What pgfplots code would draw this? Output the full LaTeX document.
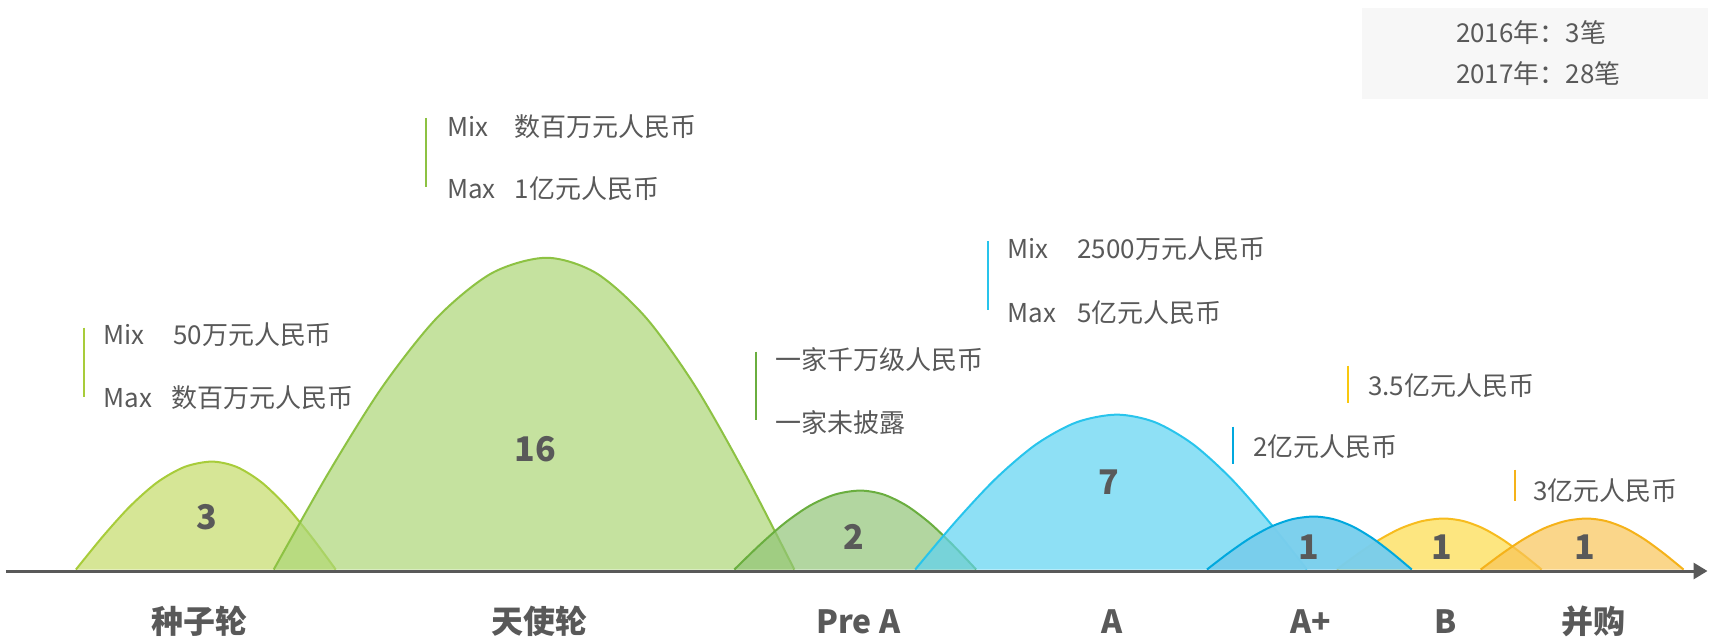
\documentclass[border=0pt]{standalone}
\usepackage{pgfplots}
\pgfplotsset{compat=1.18}
\usepackage{pgfplotstable}
\usetikzlibrary{arrows.meta}
\usepackage{fontspec}
\setmainfont{Noto Sans CJK SC}
\definecolor{txt}{RGB}{89,89,89}
\definecolor{axg}{RGB}{89,89,89}
\definecolor{seedF}{RGB}{196,219,105}\definecolor{seedL}{RGB}{168,204,58}
\definecolor{angF}{RGB}{172,214,118}\definecolor{angL}{RGB}{141,194,67}
\definecolor{preF}{RGB}{145,196,119}\definecolor{preL}{RGB}{106,174,63}
\definecolor{aF}{RGB}{94,211,241}\definecolor{aL}{RGB}{40,196,236}
\definecolor{apF}{RGB}{121,206,236}\definecolor{apL}{RGB}{0,168,222}
\definecolor{bF}{RGB}{252,219,74}\definecolor{bL}{RGB}{247,188,30}
\definecolor{bBar}{RGB}{249,200,14}
\definecolor{mF}{RGB}{248,196,88}\definecolor{mL}{RGB}{245,178,25}
\definecolor{boxF}{RGB}{247,247,247}

\pgfplotstableread{
x y
76 0
103.2 33.4
130.4 63.5
157.6 87.4
184.8 102.7
212 108
236.8 102.7
261.6 87.4
286.4 63.5
311.2 33.4
336 0
}\seedtab
\pgfplotstableread{
x y
274 0
328.6 96.4
383.2 183.5
437.8 252.4
492.4 296.7
547 312
596.6 296.7
646.2 252.4
695.8 183.5
745.4 96.4
795 0
}\angtab
\pgfplotstableread{
x y
735 0
760.2 24.4
785.4 46.5
810.6 63.9
835.8 75.1
861 79
884.2 75.1
907.4 63.9
930.6 46.5
953.8 24.4
977 0
}\pretab
\pgfplotstableread{
x y
916 0
956.4 47.9
996.8 91.1
1037.2 125.4
1077.6 147.4
1118 155
1156 147.4
1194 125.4
1232 91.1
1270 47.9
1308 0
}\atab
\pgfplotstableread{
x y
1208 0
1229.4 16.4
1250.8 31.2
1272.2 42.9
1293.6 50.4
1315 53
1334.6 50.4
1354.2 42.9
1373.8 31.2
1393.4 16.4
1413 0
}\aptab
\pgfplotstableread{
x y
1338 0
1359.4 15.8
1380.8 30.0
1402.2 41.3
1423.6 48.5
1445 51
1464.6 48.5
1484.2 41.3
1503.8 30.0
1523.4 15.8
1543 0
}\btab
\pgfplotstableread{
x y
1482 0
1503.2 15.8
1524.4 30.0
1545.6 41.3
1566.8 48.5
1588 51
1607.4 48.5
1626.8 41.3
1646.2 30.0
1665.6 15.8
1685 0
}\mtab

\begin{document}
\begin{tikzpicture}
\begin{axis}[x=0.5pt, y=0.5pt, scale only axis,
  xmin=0, xmax=1709, ymin=-69, ymax=570,
  hide axis, clip=false]
\path (axis cs:0,-69) rectangle (axis cs:1709,570);
% top-right box
\fill[boxF] (axis cs:1363,471) rectangle (axis cs:1709,562);
% shapes
\addplot[smooth, draw=none, fill=seedF, fill opacity=0.7] table {\seedtab} -- cycle;
\addplot[smooth, draw=seedL, line width=1pt] table {\seedtab};
\addplot[smooth, draw=none, fill=angF, fill opacity=0.7] table {\angtab} -- cycle;
\addplot[smooth, draw=angL, line width=1pt] table {\angtab};
\addplot[smooth, draw=none, fill=preF, fill opacity=0.7] table {\pretab} -- cycle;
\addplot[smooth, draw=preL, line width=1pt] table {\pretab};
\addplot[smooth, draw=none, fill=aF, fill opacity=0.7] table {\atab} -- cycle;
\addplot[smooth, draw=aL, line width=1pt] table {\atab};
\addplot[smooth, draw=none, fill=bF, fill opacity=0.7] table {\btab} -- cycle;
\addplot[smooth, draw=bL, line width=1pt] table {\btab};
\addplot[smooth, draw=none, fill=apF, fill opacity=0.97] table {\aptab} -- cycle;
\addplot[smooth, draw=apL, line width=1pt] table {\aptab};
\addplot[smooth, draw=none, fill=mF, fill opacity=0.7] table {\mtab} -- cycle;
\addplot[smooth, draw=mL, line width=1pt] table {\mtab};
% axis line
\draw[line width=1.5pt, axg, -{Triangle[length=7pt,width=8pt]}] (axis cs:6,-1.5) -- (axis cs:1709,-1.5);
% annotation bars
\draw[line width=1pt, seedL] (axis cs:84,242) -- (axis cs:84,173);
\draw[line width=1pt, angL] (axis cs:426,452) -- (axis cs:426,383);
\draw[line width=1pt, preL] (axis cs:757,218) -- (axis cs:757,150);
\draw[line width=1pt, aL] (axis cs:989,329) -- (axis cs:989,260);
\draw[line width=1pt, apL] (axis cs:1234,143) -- (axis cs:1234,106);
\draw[line width=1pt, bBar] (axis cs:1349,204) -- (axis cs:1349,167);
\draw[line width=1pt, mL] (axis cs:1516,100) -- (axis cs:1516,69);
% annotation texts
\begin{scope}[every node/.style={anchor=west, inner sep=0pt, text=txt, font=\fontsize{13}{15}\selectfont}]
\node at (axis cs:103,235) {\makebox[35pt][l]{Mix}50万元人民币};
\node at (axis cs:103,172) {\makebox[34pt][l]{Max}数百万元人民币};
\node at (axis cs:447,443) {\makebox[34pt][l]{Mix}数百万元人民币};
\node at (axis cs:447,381) {\makebox[34pt][l]{Max}1亿元人民币};
\node at (axis cs:776,210) {一家千万级人民币};
\node at (axis cs:776,147) {一家未披露};
\node at (axis cs:1008,321) {\makebox[35pt][l]{Mix}2500万元人民币};
\node at (axis cs:1008,257) {\makebox[35pt][l]{Max}5亿元人民币};
\node at (axis cs:1254,123) {2亿元人民币};
\node at (axis cs:1369,184) {3.5亿元人民币};
\node at (axis cs:1534,79) {3亿元人民币};
\node at (axis cs:1457,537) {2016年：3笔};
\node at (axis cs:1457,496) {2017年：28笔};
\end{scope}
% numbers
\begin{scope}[every node/.style={anchor=center, inner sep=0pt, text=txt, font=\fontsize{17}{19}\selectfont\bfseries}]
\node at (axis cs:207,52) {3};
\node at (axis cs:536,120) {16};
\node at (axis cs:855,33) {2};
\node at (axis cs:1110,87) {7};
\node at (axis cs:1310,22) {1};
\node at (axis cs:1443,22) {1};
\node at (axis cs:1586,22) {1};
\end{scope}
% categories
\begin{scope}[every node/.style={anchor=center, inner sep=0pt, text=txt, font=\fontsize{16}{18}\selectfont\bfseries}]
\node at (axis cs:200,-52) {种子轮};
\node at (axis cs:540,-52) {天使轮};
\node at (axis cs:859,-52) {Pre A};
\node at (axis cs:1113,-52) {A};
\node at (axis cs:1312,-52) {A+};
\node at (axis cs:1447,-52) {B};
\node at (axis cs:1595,-52) {并购};
\end{scope}
\end{axis}
\end{tikzpicture}
\end{document}
